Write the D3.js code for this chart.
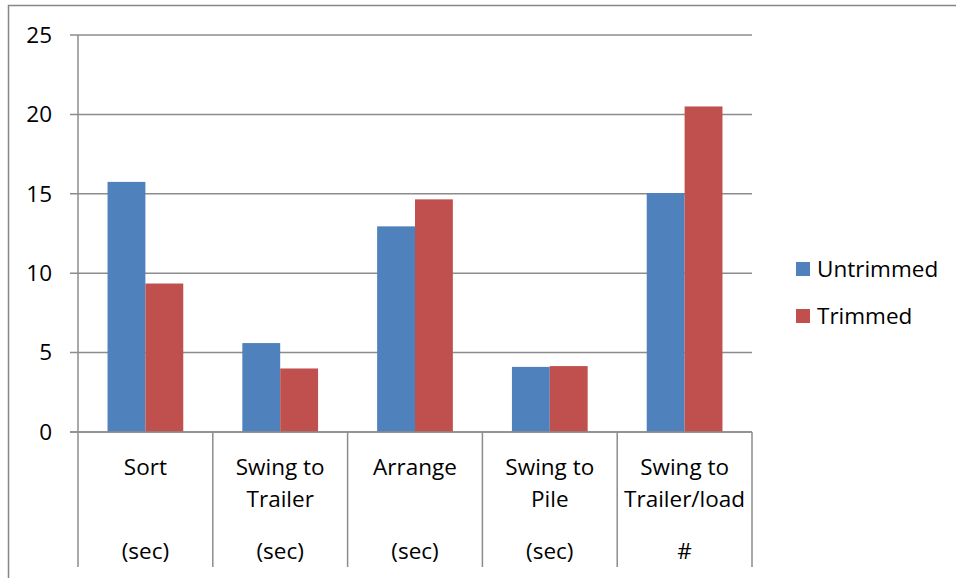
<!DOCTYPE html>
<html><head><meta charset="utf-8">
<script src="https://cdn.jsdelivr.net/npm/d3@7"></script>
<style>body{margin:0;background:#fff}svg{display:block}text{font-family:"Open Sans",sans-serif;fill:#000}</style>
</head><body><svg width="956" height="578"></svg>
<script>
const categories = ["Sort","Swing to Trailer","Arrange","Swing to Pile","Swing to Trailer/load"];
const labelLines = [["Sort",""],["Swing to","Trailer"],["Arrange",""],["Swing to","Pile"],["Swing to","Trailer/load"]];
const units = ["(sec)","(sec)","(sec)","(sec)","#"];
const seriesNames = ["Untrimmed","Trimmed"];
const untrimmed = [15.75, 5.6, 12.95, 4.1, 15.05];
const trimmed = [9.35, 4.0, 14.65, 4.15, 20.5];
const yTicks = [0,5,10,15,20,25];
const colors = ["#4F81BD","#C0504D"];

const svg = d3.select("svg");
const L=78, R=752, T=35, B=432;
const FS = "22.5px";
const x = d3.scaleBand().domain(categories).range([L,R]).paddingInner(0).paddingOuter(0);
const xs = d3.scaleBand().domain(seriesNames).range([0,x.bandwidth()]).paddingInner(0).paddingOuter(0.78);
const y = d3.scaleLinear().domain([0,25]).range([B,T]);

// outer frame
svg.append("rect").attr("x",8.5).attr("y",5.5).attr("width",1000).attr("height",1000).attr("fill","none").attr("stroke","#868686").attr("stroke-width",1.5);

// gridlines
svg.append("g").selectAll("line").data(yTicks).join("line")
  .attr("x1",70).attr("x2",R).attr("y1",d=>y(d)).attr("y2",d=>y(d))
  .attr("stroke","#8c8c8c").attr("stroke-width",1.5);
svg.append("g").selectAll("text").data(yTicks).join("text")
  .attr("x",52).attr("y",d=>y(d)).attr("dy","0.35em").attr("text-anchor","end")
  .style("font-size",FS).text(d=>d);

// bars
const data = [untrimmed, trimmed];
const g = svg.append("g");
categories.forEach((c,i)=>{
  data.forEach((s,j)=>{
    g.append("rect").attr("x",x(c)+xs(seriesNames[j])).attr("width",xs.bandwidth())
     .attr("y",y(s[i])).attr("height",y(0)-y(s[i])).attr("fill",colors[j]);
  });
});

// left axis line
svg.append("line").attr("x1",L).attr("x2",L).attr("y1",T).attr("y2",B).attr("stroke","#8c8c8c").attr("stroke-width",1.5);
// category dividers
const edges = categories.map(c=>x(c)).concat([R]);
svg.append("g").selectAll("line").data(edges).join("line")
  .attr("x1",d=>d).attr("x2",d=>d).attr("y1",B).attr("y2",567)
  .attr("stroke","#8c8c8c").attr("stroke-width",1.5);
svg.append("line").attr("x1",70).attr("x2",R).attr("y1",B).attr("y2",B).attr("stroke","#8c8c8c").attr("stroke-width",1.5);

// category labels
const lab = svg.append("g").style("font-size",FS).attr("text-anchor","middle");
categories.forEach((c,i)=>{
  const cx = x(c)+x.bandwidth()/2;
  lab.append("text").attr("x",cx).attr("y",467).attr("dy","0.35em").text(labelLines[i][0]);
  if(labelLines[i][1]) lab.append("text").attr("x",cx).attr("y",499).attr("dy","0.35em").text(labelLines[i][1]);
  lab.append("text").attr("x",cx).attr("y",551).attr("dy","0.35em").text(units[i]);
});

// legend
const lg = svg.append("g");
seriesNames.forEach((n,j)=>{
  const cy = 269 + j*47;
  lg.append("rect").attr("x",796).attr("y",cy-7).attr("width",14).attr("height",14).attr("fill",colors[j]);
  lg.append("text").attr("x",817).attr("y",cy).attr("dy","0.35em").style("font-size",FS).text(n);
});
</script></body></html>
